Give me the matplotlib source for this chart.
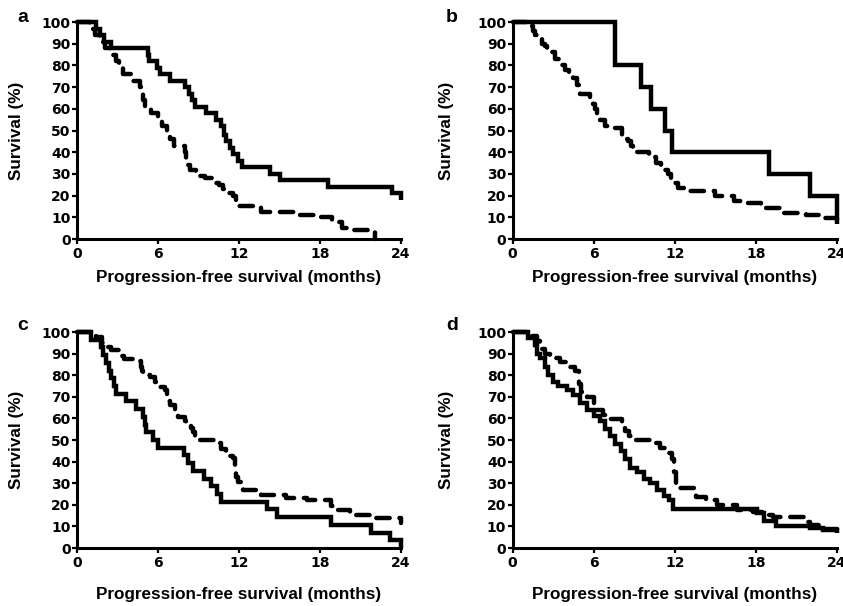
import matplotlib
matplotlib.use("Agg")
import matplotlib.pyplot as plt

plt.rcParams['font.family'] = ['Liberation Sans', 'DejaVu Sans']
plt.rcParams['font.weight'] = 'bold'

# ---------------- data (months, survival %) ----------------
a_solid_t = [0, 1.4, 1.7, 2.0, 2.5, 5.26, 5.35, 5.93, 6.13, 6.87, 7.98, 8.3, 8.5, 8.72, 9.59, 10.33,
             10.7, 10.9, 11.07, 11.3, 11.56, 11.93, 12.2, 14.3, 15.0, 18.6, 23.3, 24.0]
a_solid_s = [100, 97, 94, 91, 88, 85, 82, 79, 76, 73, 70, 67, 64, 61, 58, 55,
             52, 48, 45, 42, 39, 36, 33, 30, 27, 24, 21, 18]
a_dash_t = [0, 0.95, 1.3, 1.7, 2.1, 2.6, 2.92, 3.1, 3.41, 4.03, 4.65, 4.8, 4.9, 5.02, 5.5, 6.0,
            6.3, 6.63, 6.9, 7.2, 7.98, 8.1, 8.2, 8.35, 8.84, 9.47, 10.1, 10.5, 10.83, 11.2,
            11.56, 11.8, 11.93, 13.6, 16.5, 17.6, 18.9, 19.6, 20.0, 22.07]
a_dash_s = [100, 97, 94, 91, 88, 85, 82, 79, 76, 73, 70, 67, 64, 61, 58, 55,
            52, 49, 46, 43, 40, 37, 34, 32, 29, 28, 26, 25, 23, 21,
            20, 18, 15, 12.6, 11.1, 10.3, 8, 5, 4.2, 0]

b_solid_t = [0, 7.57, 9.54, 10.28, 11.3, 11.8, 19.0, 22.0, 24.0]
b_solid_s = [100, 80, 70, 60, 50, 40, 30, 20, 7]
b_dash_t = [0, 1.17, 1.5, 1.7, 1.91, 2.2, 2.4, 2.52, 3.14, 3.5, 3.88, 4.2, 4.49, 4.8, 4.99,
            5.72, 5.97, 6.1, 6.22, 6.5, 6.83, 7.5, 8.07, 8.3, 8.56, 8.75, 8.92, 10.1, 10.4,
            10.6, 11.0, 11.26, 11.5, 11.7, 11.88, 12.25, 12.9, 14.96, 16.4, 17.0, 18.4,
            19.75, 21.7, 22.95, 24.0]
b_dash_s = [100, 98, 96, 94, 92, 90, 89, 86, 83, 80, 78, 76, 74, 71, 67,
            65, 62, 60, 57, 55, 52, 51, 48, 46, 45, 43, 40, 39, 38,
            35, 34, 32, 30, 28, 26, 23.5, 22, 19.6, 17.5, 16.5, 14.2,
            12, 11, 9.6, 7]

c_solid_t = [0, 1.07, 1.8, 1.9, 2.18, 2.35, 2.55, 2.75, 2.92, 3.6, 4.4, 4.9, 5.02, 5.14, 5.63,
             6.0, 7.9, 8.2, 8.6, 9.4, 9.9, 10.4, 10.7, 14.1, 14.8, 18.8, 21.8, 23.2, 24.0]
c_solid_s = [100, 96.4, 92.9, 89.3, 85.7, 82.1, 78.6, 75.0, 71.4, 67.9, 64.3, 60.7, 57.1, 53.6, 50.0,
             46.4, 42.9, 39.3, 35.7, 32.1, 28.6, 25.0, 21.4, 17.9, 14.3, 10.7, 7.1, 3.6, 0]
c_dash_t = [0, 1.39, 1.88, 2.26, 2.55, 3.17, 3.5, 4.28, 4.77, 4.85, 4.9, 5.39, 5.76, 5.88, 6.5,
            6.63, 6.75, 6.87, 7.24, 7.49, 7.98, 8.1, 8.47, 8.6, 8.72, 9.1, 10.33, 10.7, 11.07,
            11.32, 11.56, 11.69, 11.8, 11.93, 12.3, 13.6, 15.5, 17.0, 18.8, 19.2, 20.2, 21.9, 24.0]
c_dash_s = [100, 97.5, 95, 93, 91.5, 89, 87.5, 86.5, 84, 82, 80, 79, 77, 74.7, 73,
            70, 68, 66, 64, 60.5, 59, 57, 55.4, 53.5, 52, 50, 48.5, 46, 44.5,
            42.5, 41.5, 37, 33, 30.7, 27, 24.5, 23, 22, 19.5, 17.6, 15.3, 13.7, 11.4]

d_solid_t = [0, 1.18, 1.67, 1.8, 2.0, 2.4, 2.65, 3.0, 3.4, 4.0, 4.5, 5.0, 5.5, 6.0, 6.5, 6.85,
             7.2, 7.6, 8.0, 8.3, 8.7, 9.2, 9.7, 10.2, 10.7, 11.2, 11.6, 11.9, 18.05, 18.6,
             19.5, 22.0, 23.0, 24.0]
d_solid_s = [100, 97, 94, 90, 88, 84, 80, 77, 75, 73, 71, 67, 64, 61, 59, 55,
             52, 48, 45, 41, 37, 35, 32, 30, 27, 24, 22, 18, 16, 12.5,
             10.3, 9.4, 8.3, 7]
d_dash_t = [0, 1.3, 1.8, 2.05, 2.4, 2.8, 3.5, 4.26, 4.6, 4.95, 5.1, 5.5, 6.0, 6.2, 6.7, 7.2,
            8.1, 8.3, 8.6, 9.0, 10.6, 10.9, 11.4, 11.8, 11.95, 12.1, 13.6, 14.3, 15.1, 16.6,
            17.8, 18.8, 19.3, 21.6, 22.0, 22.8, 24.0]
d_dash_s = [100, 98, 96, 92, 90, 88, 86, 84, 82, 76, 72, 70, 67, 64, 61.5, 59.5,
            57, 54, 52, 50, 48.5, 46.5, 44, 41, 35, 27.6, 23.8, 22.2, 19.9, 17.5,
            16.5, 15.5, 14.5, 12, 10.5, 9, 8]

panels = [
    ('a', a_solid_t, a_solid_s, a_dash_t, a_dash_s),
    ('b', b_solid_t, b_solid_s, b_dash_t, b_dash_s),
    ('c', c_solid_t, c_solid_s, c_dash_t, c_dash_s),
    ('d', d_solid_t, d_solid_s, d_dash_t, d_dash_s),
]

x_ticks = [0, 6, 12, 18, 24]
y_ticks = [0, 10, 20, 30, 40, 50, 60, 70, 80, 90, 100]
xlabel = 'Progression-free survival (months)'
ylabel = 'Survival (%)'

W, H = 843, 606
fig = plt.figure(figsize=(W / 100, H / 100), dpi=100)

# axes pixel boxes: left, right, top, bottom
boxes = {
    'a': (77, 401, 22, 239),
    'b': (512.5, 837, 22, 239),
    'c': (77, 401, 332, 548),
    'd': (512.5, 837, 332, 548),
}
label_pos = {'a': (23, 17), 'b': (452, 17), 'c': (23, 326), 'd': (452, 326)}
xlab_y = {'a': 277, 'b': 277, 'c': 594, 'd': 594}
ylab_x = {'a': 17, 'b': 447, 'c': 17, 'd': 447}

for name, st, ss, dt, ds in panels:
    l, r, t, b = boxes[name]
    ax = fig.add_axes([l / W, 1 - b / H, (r - l) / W, (b - t) / H])
    ax.step(st, ss, where='post', color='black', lw=3.2, clip_on=False,
            solid_capstyle='butt', solid_joinstyle='miter', zorder=3)
    ax.step(dt, ds, where='post', color='black', lw=3.2, clip_on=False,
            linestyle=(0, (3.0, 2.2)), dash_capstyle='round', zorder=3)
    ax.set_xlim(0, 24)
    ax.set_ylim(0, 100)
    ax.set_xticks(x_ticks)
    ax.set_yticks(y_ticks)
    for s in ('top', 'right'):
        ax.spines[s].set_visible(False)
    for s in ('left', 'bottom'):
        ax.spines[s].set_linewidth(2.2)
    ax.tick_params(axis='both', direction='out', length=3.5, width=1.6, pad=1)
    ax.tick_params(axis='x', pad=2)
    for lab in ax.get_xticklabels() + ax.get_yticklabels():
        lab.set_fontweight('bold')
        lab.set_fontfamily('DejaVu Sans')
        lab.set_fontsize(10)
    ax.set_xlabel(xlabel, fontsize=12.3, fontweight='bold', va='center')
    ax.xaxis.set_label_coords(0.5, (b - xlab_y[name]) / (b - t))
    ax.set_ylabel(ylabel, fontsize=12.3, fontweight='bold', va='center')
    ax.yaxis.set_label_coords((ylab_x[name] - l) / (r - l), 0.5)
    px, py = label_pos[name]
    fig.text(px / W, 1 - py / H, name, fontsize=14, fontweight='bold',
             ha='center', va='center')

fig.savefig('out.png', dpi=100)
